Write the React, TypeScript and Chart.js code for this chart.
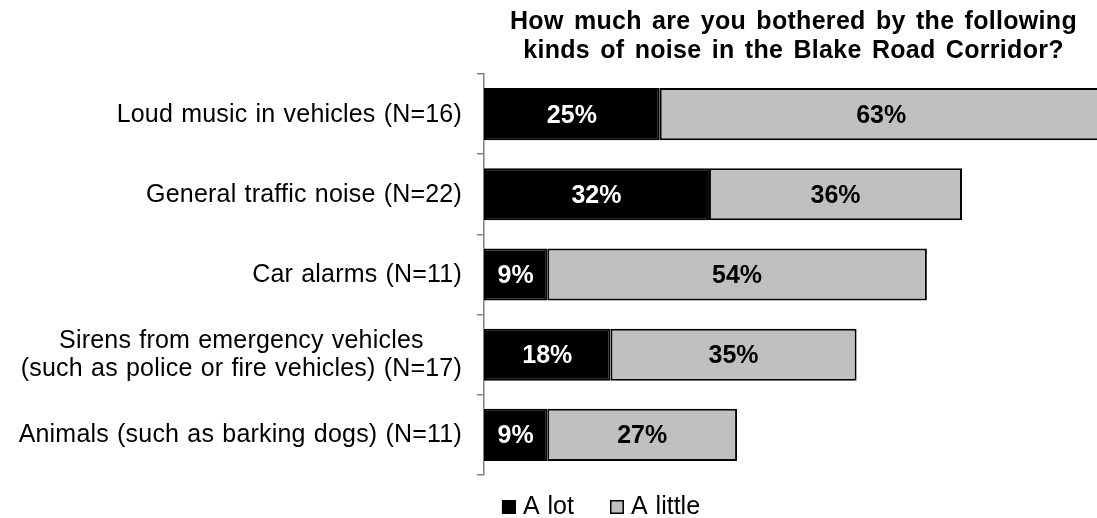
import React, { useEffect, useRef } from "react";
import { Chart, registerables } from "chart.js";

Chart.register(...registerables);

const categories: (string | string[])[] = [
  "Loud music in vehicles (N=16)",
  "General traffic noise (N=22)",
  "Car alarms (N=11)",
  ["Sirens from emergency vehicles", "(such as police or fire vehicles) (N=17)"],
  "Animals (such as barking dogs) (N=11)",
];
const seriesNames = ["A lot", "A little"];
const aLot = [25, 32, 9, 18, 9];
const aLittle = [63, 36, 54, 35, 27];
const titleLines = [
  "How much are you bothered by the following",
  "kinds of noise in the Blake Road Corridor?",
];
const xMax = 87.2;

const FONT = '"Liberation Sans", Arial, Helvetica, sans-serif';

const customPlugin = {
  id: "customText",
  afterDatasetsDraw(chart: any) {
    const ctx = chart.ctx;
    ctx.save();
    ctx.font = `bold 25px ${FONT}`;
    ctx.textAlign = "center";
    ctx.textBaseline = "alphabetic";
    chart.data.datasets.forEach((ds: any, di: number) => {
      const meta = chart.getDatasetMeta(di);
      meta.data.forEach((bar: any, i: number) => {
        const v = ds.data[i];
        const cx = (bar.x + bar.base) / 2;
        ctx.fillStyle = di === 0 ? "#ffffff" : "#000000";
        ctx.fillText(`${v}%`, cx, bar.y + 8.5);
      });
    });
    ctx.restore();
  },
  afterDraw(chart: any) {
    const ctx = chart.ctx;
    const area = chart.chartArea;
    ctx.save();
    ctx.fillStyle = "#000";
    ctx.textBaseline = "alphabetic";

    // Title
    (ctx as any).wordSpacing = "3px";
    (ctx as any).letterSpacing = "0.3px";
    ctx.font = `bold 25px ${FONT}`;
    ctx.textAlign = "center";
    const tx = (area.left + area.right) / 2 + 3;
    titleLines.forEach((l, i) => ctx.fillText(l, tx, 29 + i * 28.5));

    // Category labels
    (ctx as any).wordSpacing = "1px";
    (ctx as any).letterSpacing = "0.2px";
    const yScale = chart.scales.y;
    ctx.font = `25px ${FONT}`;
    categories.forEach((lab, i) => {
      const cy = yScale.getPixelForValue(i);
      const lines = Array.isArray(lab) ? lab : [lab];
      const widths = lines.map((l) => ctx.measureText(l).width);
      const maxW = Math.max(...widths);
      const right = area.left - 22;
      const center = right - maxW / 2;
      const lh = 28;
      const y0 = cy + 7.5 - ((lines.length - 1) * lh) / 2;
      ctx.textAlign = "center";
      lines.forEach((l, j) => ctx.fillText(l, center, y0 + j * lh));
    });

    // Legend
    (ctx as any).wordSpacing = "1px";
    (ctx as any).letterSpacing = "0px";
    ctx.font = `25px ${FONT}`;
    ctx.textAlign = "left";
    const box = 14;
    const gap = 7;
    const itemGap = 36;
    const items = chart.data.datasets.map((ds: any) => ({
      text: ds.label,
      fill: ds.backgroundColor,
      w: ctx.measureText(ds.label).width,
    }));
    const total =
      items.reduce((s: number, it: any) => s + box + gap + it.w, 0) +
      itemGap * (items.length - 1);
    let x = 601 - total / 2;
    const baseline = 514;
    items.forEach((it: any) => {
      ctx.fillStyle = it.fill;
      ctx.fillRect(x, baseline - box, box, box);
      ctx.lineWidth = 1.5;
      ctx.strokeStyle = "#000";
      ctx.strokeRect(x + 0.75, baseline - box + 0.75, box - 1.5, box - 1.5);
      ctx.fillStyle = "#000";
      ctx.fillText(it.text, x + box + gap, baseline);
      x += box + gap + it.w + itemGap;
    });
    ctx.restore();
  },
};

export default function App() {
  const ref = useRef<HTMLCanvasElement | null>(null);
  useEffect(() => {
    if (!ref.current) return;
    Chart.defaults.font.family = FONT;
    const chart = new Chart(ref.current, {
      type: "bar",
      data: {
        labels: categories as any,
        datasets: [
          {
            label: seriesNames[0],
            data: aLot,
            backgroundColor: "#000000",
            borderColor: "#000000",
            borderWidth: 2,
            borderSkipped: false,
            barPercentage: 1,
            categoryPercentage: 0.65,
          },
          {
            label: seriesNames[1],
            data: aLittle,
            backgroundColor: "#c0c0c0",
            borderColor: "#000000",
            borderWidth: 2,
            borderSkipped: false,
            barPercentage: 1,
            categoryPercentage: 0.65,
          },
        ],
      },
      options: {
        indexAxis: "y",
        responsive: false,
        animation: false,
        devicePixelRatio: 1,
        layout: { padding: { top: 74, bottom: 43, left: 0, right: 0 } },
        plugins: {
          legend: { display: false },
          title: { display: false },
          tooltip: { enabled: false },
        },
        scales: {
          x: {
            display: false,
            stacked: true,
            min: 0,
            max: xMax,
          },
          y: {
            stacked: true,
            offset: true,
            grid: {
              display: true,
              drawOnChartArea: false,
              drawTicks: true,
              tickLength: 7,
              color: "#808080",
              lineWidth: 1.5,
              offset: true,
            },
            border: { display: true, color: "#808080", width: 1.5 },
            ticks: { display: false },
            afterFit: (s: any) => {
              s.width = 484;
            },
          },
        },
      },
      plugins: [customPlugin],
    } as any);
    return () => chart.destroy();
  }, []);
  return (
    <div style={{ position: "absolute", left: 0, top: 0, width: 1097, height: 518, background: "#fff" }}>
      <canvas ref={ref} width={1097} height={518} style={{ display: "block" }} />
    </div>
  );
}
